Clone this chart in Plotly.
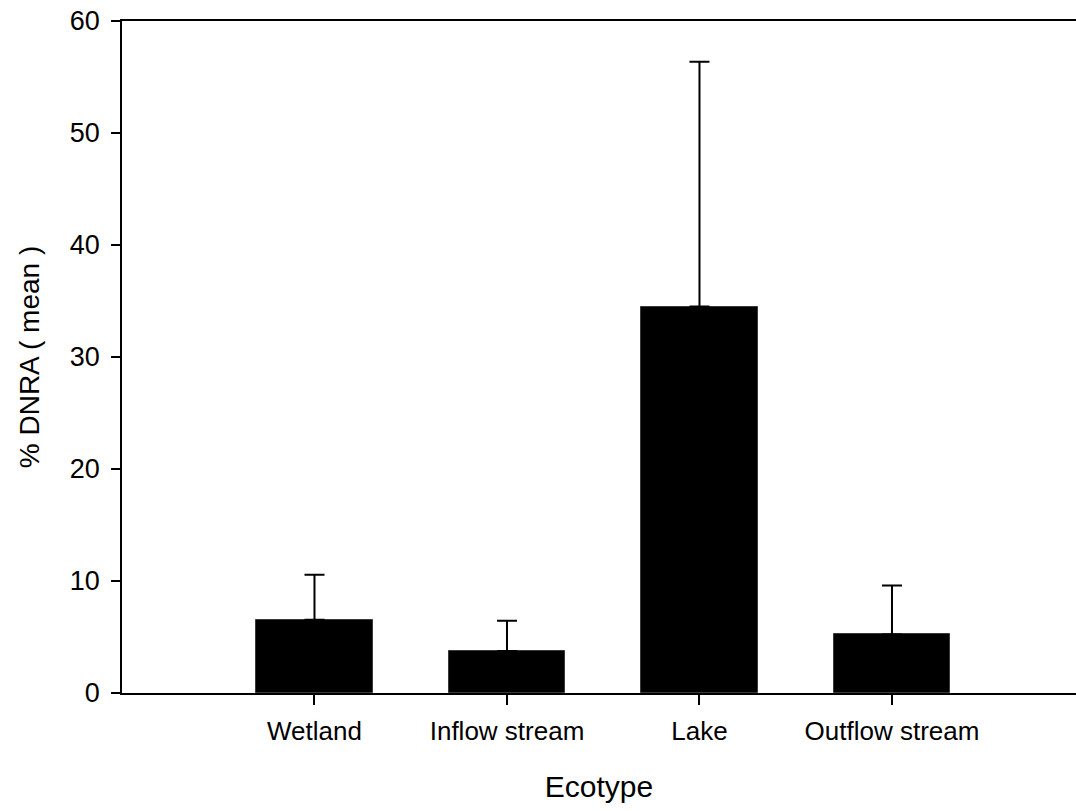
import plotly.graph_objects as go

# Mean % DNRA per ecotype with upper standard-error whiskers
ecotypes = ["Wetland", "Inflow stream", "Lake", "Outflow stream"]
positions = [1, 2, 3, 4]
dnra_mean = [6.54, 3.75, 34.5, 5.23]
dnra_err = [4.02, 2.70, 21.87, 4.37]
y_ticks = [0, 10, 20, 30, 40, 50, 60]

font_family = "Liberation Sans, Arial, sans-serif"

fig = go.Figure()
fig.add_trace(go.Bar(
    x=positions,
    y=dnra_mean,
    width=0.606,
    marker=dict(color="black", line=dict(color="#3a3a3a", width=1)),
    error_y=dict(type="data", symmetric=False, array=dnra_err,
                 arrayminus=[0] * len(dnra_err),
                 color="black", thickness=2, width=10),
    showlegend=False,
))

fig.update_layout(
    width=1076, height=811,
    margin=dict(l=122, r=0, t=21, b=118),
    plot_bgcolor="white", paper_bgcolor="white",
    font=dict(family=font_family, color="black"),
    bargap=0,
)

fig.update_xaxes(
    range=[0, 4.956],
    tickmode="array", tickvals=positions, ticktext=ecotypes,
    tickfont=dict(size=26),
    ticks="outside", ticklen=10, tickwidth=2, tickcolor="black",
    ticklabelstandoff=4,
    showline=True, linecolor="black", linewidth=2, mirror=True,
    showgrid=False, zeroline=False,
    title=dict(text="Ecotype", font=dict(size=30), standoff=31),
)

fig.update_yaxes(
    range=[0, 60],
    tickmode="array", tickvals=y_ticks,
    tickfont=dict(size=27),
    ticks="outside", ticklen=9, tickwidth=2, tickcolor="black",
    ticklabelstandoff=6,
    showline=True, linecolor="black", linewidth=1.5, mirror=False,
    showgrid=False, zeroline=False,
    title=dict(text="% DNRA ( mean )", font=dict(size=28), standoff=22),
)

fig.write_html("out.html")
